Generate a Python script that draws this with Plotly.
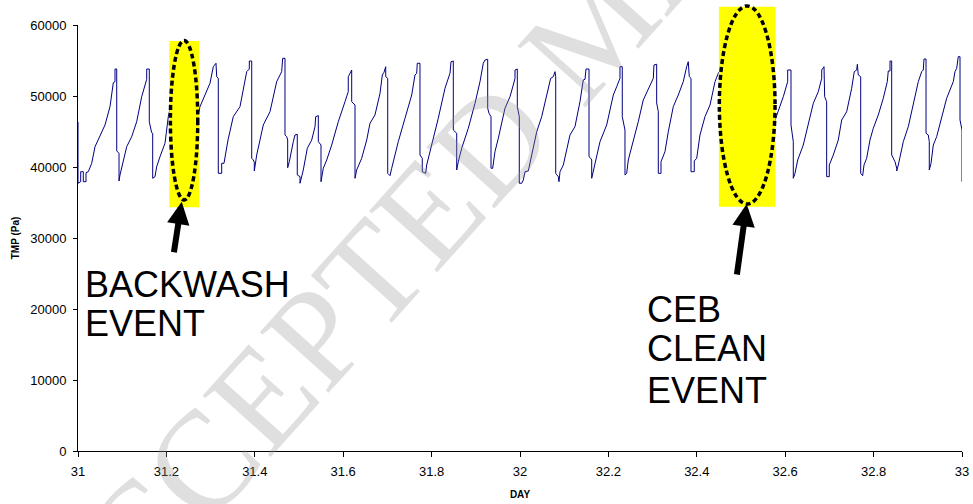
import plotly.graph_objects as go

# ---- data (DAY, TMP in Pa) ----
day = [
 31.0000,31.0000,31.0061,31.0061,31.0120,31.0120,31.0181,31.0181,31.0233,31.0310,31.0385,31.0498,31.0611,31.0724,31.0799,31.0837,31.0837,31.0876,31.0876,31.0928,31.0928,
 31.0950,31.1102,31.1215,31.1328,31.1441,31.1554,31.1554,31.1613,31.1613,31.1667,31.1690,31.1690,
 31.1742,31.1780,31.1855,31.1968,31.2043,31.2127,31.2240,31.2308,31.2398,31.2398,31.2443,
 31.2534,31.2647,31.2760,31.2986,31.3061,31.3099,31.3122,31.3138,31.3174,31.3174,31.3251,31.3251,
 31.3303,31.3394,31.3513,31.3665,31.3817,31.3876,31.3876,31.3930,31.3930,31.3966,31.3989,31.3989,
 31.4043,31.4192,31.4344,31.4495,31.4608,31.4631,31.4683,31.4683,31.4722,31.4744,31.4744,31.4781,31.4819,31.4871,31.4909,31.4961,31.4961,31.5023,31.5023,
 31.5061,31.5097,31.5188,31.5287,31.5362,31.5378,31.5437,31.5437,31.5498,31.5498,
 31.5550,31.5627,31.5740,31.5889,31.6041,31.6115,31.6115,31.6176,31.6192,31.6192,31.6267,31.6267,
 31.6305,31.6418,31.6532,31.6606,31.6719,31.6833,31.6885,31.6923,31.6946,31.6962,31.6962,31.7007,31.7007,31.7059,
 31.7097,31.7172,31.7246,31.7398,31.7550,31.7624,31.7663,31.7676,31.7737,31.7737,31.7789,31.7789,31.7866,
 31.7889,31.8002,31.8151,31.8303,31.8416,31.8439,31.8491,31.8491,31.8545,31.8568,31.8568,
 31.8604,31.8681,31.8830,31.8982,31.9095,31.9169,31.9208,31.9269,31.9269,31.9299,31.9344,31.9344,31.9382,
 31.9434,31.9509,31.9660,31.9774,31.9848,31.9887,31.9887,31.9939,31.9939,31.9984,31.9984,
 32.0038,32.0075,32.0113,32.0188,32.0265,32.0378,32.0491,32.0604,32.0694,32.0753,32.0792,32.0808,32.0808,32.0866,32.0882,
 32.0905,32.0980,32.1131,32.1244,32.1357,32.1432,32.1471,32.1493,32.1561,32.1561,32.1600,32.1622,32.1622,
 32.1658,32.1771,32.1810,32.1961,32.2111,32.2188,32.2262,32.2262,32.2314,32.2314,32.2375,32.2375,
 32.2414,32.2450,32.2563,32.2676,32.2789,32.2903,32.3016,32.3031,32.3092,32.3092,32.3129,32.3129,32.3190,
 32.3190,32.3280,32.3355,32.3468,32.3581,32.3694,32.3771,32.3807,32.3830,32.3869,32.3869,32.3943,32.3943,
 32.3998,32.4072,32.4185,32.4299,32.4412,32.4486,32.4570,32.4615,32.4615,32.4661,
 32.4796,32.4977,32.5158,32.5294,32.5362,32.5362,32.5407,
 32.5543,32.5785,32.5957,32.6056,32.6056,32.6131,32.6131,32.6183,32.6183,
 32.6222,32.6283,32.6409,32.6522,32.6636,32.6749,32.6826,32.6826,32.6878,32.6893,32.6938,32.6938,32.6997,
 32.6997,32.7088,32.7201,32.7278,32.7391,32.7504,32.7563,32.7617,32.7633,32.7653,32.7708,32.7708,32.7753,
 32.7783,32.7843,32.7918,32.7993,32.8106,32.8219,32.8310,32.8332,32.8371,32.8371,32.8409,32.8409,32.8484,32.8523,32.8523,
 32.8559,32.8672,32.8785,32.8898,32.9011,32.9088,32.9124,32.9140,32.9186,32.9186,32.9237,32.9260,32.9260,
 32.9299,32.9351,32.9427,32.9541,32.9653,32.9803,32.9841,32.9880,32.9916,32.9955,32.9955,33.0000,33.0000,
]
tmp = [
 46340,37710,37930,39340,39340,37930,37930,39200,39340,40520,42860,44270,45920,48500,51880,52020,53800,53800,42260,41930,38030,
 38880,42860,44270,46380,49900,52350,53800,53800,46380,44830,44750,38410,
 38640,40040,41450,43340,47090,49440,52540,53660,53660,42400,38450,
 40990,45210,48500,51790,54130,54370,54610,52720,52490,39110,39110,40520,
 40520,43800,47090,48500,53430,53800,54930,54930,41230,40990,40660,39440,
 41690,45920,47790,52020,53430,55310,55310,44510,44270,43800,39900,40750,42160,43570,44510,44610,38880,38640,37710,
 38640,39580,42640,43800,45680,47090,47230,43570,43100,37930,
 39820,40990,43100,46380,49200,50610,52720,53660,53660,49200,48730,38410,
 39580,41230,43800,46160,47330,50380,52960,53340,54130,54130,52720,52490,39110,38780,
 39820,41690,43570,46860,50140,52960,53200,54610,54610,41690,41230,39340,39110,
 40280,43100,46860,51090,53200,54830,54930,45210,44970,44750,39580,
 40750,42640,45450,48970,52020,54610,55070,55170,48270,47570,47090,39820,39820,
 42160,44040,48270,49900,51550,52490,53660,53800,48500,47090,37710,
 37710,38170,39340,39440,41690,44970,47090,50140,52490,52720,53430,52720,39110,38640,37930,
 39340,40280,44510,45680,49200,52260,52350,53800,53800,41450,41230,40990,38410,
 39340,42160,43570,45920,50140,51310,52490,54130,54130,47090,45210,38880,
 39110,40990,43570,46380,49440,51090,52490,54370,54470,49020,47790,39110,39110,
 40750,42160,44970,48500,50140,52020,54130,54830,52720,52490,39340,39340,40850,
 41230,44510,47090,48730,52020,53200,53950,53950,42400,38880,
 41690,46620,50850,53950,53950,43800,38730,
 42400,46860,49900,52020,53660,53660,45920,43570,38410,
 39110,40990,43100,45920,48970,50610,52490,53660,54130,49900,49200,38640,38640,
 40280,41690,43800,46620,47790,51090,53430,53660,54470,52960,52720,39110,38780,
 40280,41230,43800,45450,47330,49680,52020,53520,53520,54930,54930,41690,40750,39820,39440,
 40280,43570,45680,48970,52020,53430,53660,55210,55210,44750,44510,43570,39580,
 40520,43100,44270,47090,49680,52020,53430,53900,55540,55540,46620,45210,37930,
]

x_ticks = [31, 31.2, 31.4, 31.6, 31.8, 32, 32.2, 32.4, 32.6, 32.8, 33]
x_tick_text = ["31", "31.2", "31.4", "31.6", "31.8", "32", "32.2", "32.4", "32.6", "32.8", "33"]
y_ticks = [0, 10000, 20000, 30000, 40000, 50000, 60000]

X0, X1 = 31, 33
Y0, Y1 = 0, 60000

# highlight boxes (data units): x0, x1, y0, y1
backwash_box = (31.2066, 31.2738, 34330, 57750)
backwash_ell = (31.2090, 31.2710, 35350, 57800)
ceb_box = (32.4500, 32.5780, 34410, 62580)
ceb_ell = (32.4510, 32.5770, 34790, 62680)

def px(v):
    return (v - X0) / (X1 - X0)

def py(v):
    return (v - Y0) / (Y1 - Y0)

FONT = "Liberation Sans, Arial, sans-serif"

fig = go.Figure()
fig.add_trace(go.Scatter(x=day, y=tmp, mode="lines",
                         line=dict(color="#000080", width=1), hoverinfo="skip"))

shapes = []
for box, ell in [(backwash_box, backwash_ell), (ceb_box, ceb_ell)]:
    shapes.append(dict(type="rect", xref="paper", yref="paper",
                       x0=px(box[0]), x1=px(box[1]), y0=py(box[2]), y1=py(box[3]),
                       fillcolor="#ffff00", line=dict(width=0), layer="above"))
    shapes.append(dict(type="circle", xref="paper", yref="paper",
                       x0=px(ell[0]), x1=px(ell[1]), y0=py(ell[2]), y1=py(ell[3]),
                       line=dict(color="black", width=3.5, dash="5px,3px"), layer="above"))

annotations = [
    # watermark
    dict(text="ACCEPTED MANUSCRIPT", xref="paper", yref="paper", x=0.585, y=1.0,
         xanchor="center", yanchor="middle",
         showarrow=False, textangle=-48,
         font=dict(family="Liberation Serif, Times New Roman, serif", size=140,
                   color="rgba(150,150,150,0.3)")),
    # arrows
    dict(x=31.2346, y=35110, xref="x", yref="y", ax=-8, ay=52, text="",
         showarrow=True, arrowhead=2, arrowsize=0.75, arrowwidth=6, arrowcolor="black"),
    dict(x=32.5129, y=34790, xref="x", yref="y", ax=-10, ay=72, text="",
         showarrow=True, arrowhead=2, arrowsize=0.75, arrowwidth=6, arrowcolor="black"),
]
label_lines = [
    ("BACKWASH", 31.0113, 23520),
    ("EVENT", 31.0113, 17890),
    ("CEB", 32.2828, 20000),
    ("CLEAN", 32.2828, 14370),
    ("EVENT", 32.2828, 8590),
]
for txt, lx, ly in label_lines:
    annotations.append(dict(text=txt, x=lx, y=ly, xref="x", yref="y",
                            xanchor="left", yanchor="middle", showarrow=False,
                            font=dict(family=FONT, size=36, color="black")))

fig.update_layout(
    width=973, height=504,
    margin=dict(l=78, r=11, t=25, b=53, autoexpand=False),
    paper_bgcolor="white", plot_bgcolor="white",
    showlegend=False,
    shapes=shapes, annotations=annotations,
    font=dict(family=FONT, color="black"),
)
fig.update_xaxes(range=[X0, X1], tickvals=x_ticks, ticktext=x_tick_text,
                 automargin=False,
                 showline=True, linecolor="black", linewidth=1,
                 ticks="outside", ticklen=5, tickcolor="black",
                 showgrid=False, zeroline=False,
                 tickfont=dict(size=13, family=FONT), ticklabelstandoff=3,
                 title=dict(text="<b>DAY</b>", font=dict(size=10, family=FONT), standoff=13))
fig.update_yaxes(range=[Y0, Y1], tickvals=y_ticks, tickformat="d",
                 automargin=False,
                 showline=True, linecolor="black", linewidth=1,
                 ticks="outside", ticklen=4, tickcolor="black",
                 showgrid=False, zeroline=False,
                 tickfont=dict(size=13, family=FONT), ticklabelstandoff=4,
                 title=dict(text="<b>TMP (Pa)</b>", font=dict(size=10, family=FONT), standoff=8))

fig.write_html("out.html", config={"displayModeBar": False},
               post_script="document.body.style.margin='0';document.body.style.padding='0';")
